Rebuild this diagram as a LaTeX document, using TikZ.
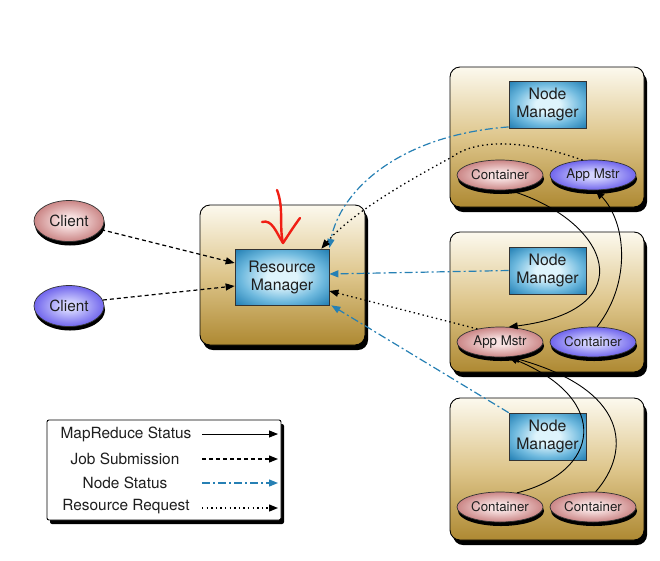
\documentclass[tikz,border=0pt]{standalone}
\usepackage{fontspec}
\setmainfont{TeX Gyre Heros}
\usetikzlibrary{shapes.geometric,shadows,arrows.meta}
\definecolor{boxtop}{RGB}{252,249,238}
\definecolor{boxmid}{RGB}{222,198,140}
\definecolor{boxbot}{RGB}{174,137,50}
\definecolor{mgrin}{RGB}{222,244,252}
\definecolor{mgrmid}{RGB}{110,185,222}
\definecolor{mgrout}{RGB}{28,122,176}
\definecolor{redin}{RGB}{248,226,226}
\definecolor{redout}{RGB}{186,100,100}
\definecolor{bluein}{RGB}{212,212,255}
\definecolor{blueout}{RGB}{88,74,232}
\definecolor{nstat}{RGB}{38,128,180}
\definecolor{txt}{RGB}{30,30,30}
\definecolor{handred}{RGB}{240,30,20}
\pgfdeclareradialshading{mgrshade}{\pgfpoint{0bp}{0bp}}{%
  color(0bp)=(mgrin); color(8bp)=(mgrin); color(22bp)=(mgrmid);
  color(36bp)=(mgrout); color(50bp)=(mgrout)}
\pgfdeclareradialshading{redshade}{\pgfpoint{0bp}{0bp}}{%
  color(0bp)=(redin); color(6bp)=(redin); color(32bp)=(redout); color(50bp)=(redout)}
\pgfdeclareradialshading{blueshade}{\pgfpoint{0bp}{0bp}}{%
  color(0bp)=(bluein); color(5bp)=(bluein); color(30bp)=(blueout); color(50bp)=(blueout)}
\tikzset{
  hostbox/.style={draw=black, line width=0.9pt, rounded corners=10pt,
    top color=boxtop, bottom color=boxbot, middle color=boxmid,
    drop shadow={shadow xshift=3pt, shadow yshift=-5pt, fill=black, opacity=1}},
  mgrbox/.style={draw=black!80, line width=0.7pt, shading=mgrshade,
    align=center, text=txt, font=\fontsize{15.8}{18}\selectfont},
  redell/.style={ellipse, draw=black!80, line width=0.7pt, shading=redshade, text=txt,
    drop shadow={shadow xshift=1pt, shadow yshift=-4pt, fill=black, opacity=1}},
  blueell/.style={ellipse, draw=black!80, line width=0.7pt, shading=blueshade, text=txt,
    drop shadow={shadow xshift=1pt, shadow yshift=-4pt, fill=black, opacity=1}},
  ctr/.style={minimum width=86pt, minimum height=30pt, inner sep=0pt,
    font=\fontsize{13.3}{15}\selectfont},
  cli/.style={minimum width=70pt, minimum height=41pt, inner sep=0pt,
    font=\fontsize{15.4}{17}\selectfont},
  tip/.style={-{Triangle[length=9pt,width=7pt]}},
  mrstat/.style={tip, draw=black, line width=0.9pt},
  jobsub/.style={tip, draw=black, line width=1.2pt, dash pattern=on 4pt off 3pt},
  nodestat/.style={-{Triangle[length=9pt,width=7pt]}, draw=nstat, line width=1.2pt,
    dash pattern=on 8pt off 3pt on 2pt off 3pt},
  resreq/.style={tip, draw=black, line width=1.3pt, dash pattern=on 1.4pt off 3.2pt},
  legtext/.style={font=\fontsize{15.4}{17}\selectfont, text=txt, anchor=center},
}
\begin{document}
\begin{tikzpicture}[x=1pt,y=-1pt]
\useasboundingbox[fill=white] (0,0) rectangle (660,560);

% host boxes
\node[hostbox, minimum width=165pt, minimum height=140pt] (rmbox) at (282.5,275) {};
\node[hostbox, minimum width=194pt, minimum height=140pt] (nb1) at (547,137) {};
\node[hostbox, minimum width=194pt, minimum height=140pt] (nb2) at (547,302) {};
\node[hostbox, minimum width=194pt, minimum height=142pt] (nb3) at (547,469) {};

% managers
\node[mgrbox, minimum width=94pt, minimum height=56pt] (rm) at (282,277) {Resource\\Manager};
\node[mgrbox, minimum width=77pt, minimum height=47pt] (nm1) at (547.5,104.5) {Node\\Manager};
\node[mgrbox, minimum width=77pt, minimum height=47pt] (nm2) at (547.5,270.5) {Node\\Manager};
\node[mgrbox, minimum width=77pt, minimum height=47pt] (nm3) at (547.5,436.5) {Node\\Manager};

% containers and app masters
\node[redell, ctr] (c1) at (500,175) {Container};
\node[blueell, ctr] (am1) at (593,175) {App Mstr};
\node[redell, ctr] (am2) at (500,342) {App Mstr};
\node[blueell, ctr] (c2) at (593,342) {Container};
\node[redell, ctr] (c3a) at (500,507) {Container};
\node[redell, ctr] (c3b) at (593,507) {Container};

% clients
\node[redell, cli] (cl1) at (69,221) {Client};
\node[blueell, cli] (cl2) at (69,306) {Client};

% legend
\node[draw=black, line width=0.9pt, fill=white, rounded corners=2pt,
  minimum width=234pt, minimum height=100pt,
  drop shadow={shadow xshift=3pt, shadow yshift=-4pt, fill=black, opacity=1}] (legend) at (164,470) {};
\node[legtext] (l1) at (126,434) {MapReduce Status};
\node[legtext] (l2) at (125,459) {Job Submission};
\node[legtext] (l3) at (125,483) {Node Status};
\node[legtext] (l4) at (126,507) {Resource Request};
\coordinate (l1a) at (202,434); \coordinate (l1b) at (278,434);
\coordinate (l2a) at (202,459); \coordinate (l2b) at (278,459);
\coordinate (l3a) at (202,483); \coordinate (l3b) at (278,483);
\coordinate (l4a) at (202,508); \coordinate (l4b) at (278,508);
\draw[mrstat] (l1a) -- (l1b);
\draw[jobsub] (l2a) -- (l2b);
\draw[nodestat] (l3a) -- (l3b);
\draw[resreq] (l4a) -- (l4b);

% job submission
\draw[jobsub] (cl1.-15) -- (rm.west |- 0,263);
\draw[jobsub] (cl2.10) -- (rm.west |- 0,286);

% node status
\draw[nodestat] (nm1.-150) .. controls (400,135) and (340,190) .. (rm.north east |- 310,248);
\draw[nodestat] (nm2.west) -- ([yshift=3pt]rm.east);
\draw[nodestat] (nm3.north west) -- ([xshift=2pt]rm.south east);

% resource requests
\draw[resreq] (am1.125) .. controls (520,138) and (475,140) .. (452,157)
  .. controls (400,185) and (350,215) .. ([xshift=-8pt]rm.north east);
\draw[resreq] (am2.150) -- ([yshift=-14pt]rm.east);

% mapreduce status
\draw[mrstat] (c1.-60) .. controls (610,220) and (645,310) .. (am2.60);
\draw[mrstat] (c2.75) .. controls (632,282) and (626,222) .. (am1.-80);
\draw[mrstat] (c3a.40) .. controls (600,472) and (612,400) .. (am2.-60);
\draw[mrstat] (c3b.80) .. controls (632,450) and (628,390) .. ([xshift=2pt]am2.-60);

% hand-drawn red arrow
\draw[handred, line width=2.4pt, line cap=round, line join=round]
  (277,190) .. controls (284,208) and (279,226) .. (283,243);
\draw[handred, line width=2.4pt, line cap=round, line join=round]
  (262,222) .. controls (272,219) and (276,232) .. (283,243)
  .. controls (289,234) and (294,226) .. (300,218);
\end{tikzpicture}
\end{document}
